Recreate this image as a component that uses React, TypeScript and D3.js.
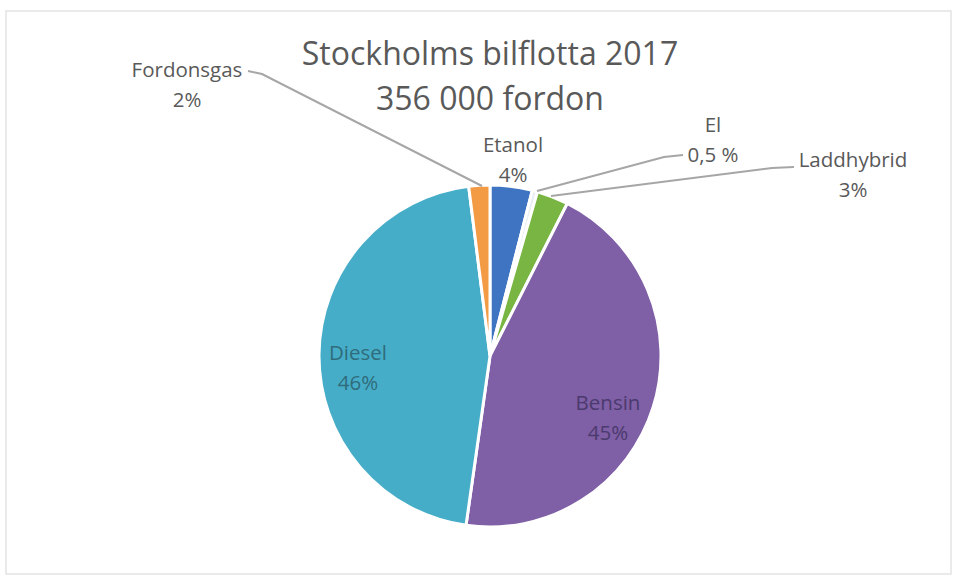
import React from 'react';
import * as d3 from 'd3';

const categories = ['Etanol', 'El', 'Laddhybrid', 'Bensin', 'Diesel', 'Fordonsgas'];
const values = [4, 0.5, 3, 45, 46, 2];
const valueLabels = ['4%', '0,5 %', '3%', '45%', '46%', '2%'];
const colors = ['#3e74c2', '#e8eef4', '#79b543', '#7f5fa5', '#46adc8', '#f39a45'];
const labelColors = ['#595959', '#595959', '#595959', '#4b3a6e', '#2f6c7c', '#595959'];
const titleLines = ['Stockholms bilflotta 2017', '356 000 fordon'];

const W = 955;
const H = 580;
const cx = 490;
const cy = 356;
const R = 171;

// label placement: x centre, baseline of first line, optional leader points
const labelPos: { x: number; y: number; leader?: [number, number][] }[] = [
  { x: 513, y: 152 },
  { x: 713, y: 132, leader: [[683, 155], [664, 157], [537, 191]] },
  { x: 853, y: 167, leader: [[794, 167], [772, 168], [551, 196]] },
  { x: 608, y: 410 },
  { x: 358, y: 360 },
  { x: 187, y: 77, leader: [[248, 71], [262, 74], [482, 186]] },
];

const App: React.FC = () => {
  const pie = d3.pie<number>().sort(null).value(d => d);
  const arcs = pie(values);
  const arc = d3.arc<d3.PieArcDatum<number>>().innerRadius(0).outerRadius(R);
  const line = d3.line();

  return (
    <svg width={W} height={H} style={{ position: 'absolute', left: 0, top: 0, background: '#fff' }}
      fontFamily="'Open Sans', sans-serif">
      <rect x={6} y={11} width={945} height={563} fill="#fff" stroke="#e3e3e3" strokeWidth={1.5} />
      {titleLines.map((t, i) => (
        <text key={t} x={cx} y={65 + i * 45} textAnchor="middle" fontSize={32} fill="#595959">{t}</text>
      ))}
      <g transform={`translate(${cx},${cy})`}>
        {arcs.map((a, i) => (
          <path key={categories[i]} d={arc(a) as string} fill={colors[i]} stroke="#fff" strokeWidth={3} />
        ))}
      </g>
      {labelPos.map((p, i) => (
        <g key={categories[i]}>
          {p.leader && (
            <path d={line(p.leader) as string} fill="none" stroke="#a6a6a6" strokeWidth={2} />
          )}
          <text x={p.x} y={p.y} textAnchor="middle" fontSize={20.5} fill={labelColors[i]}>{categories[i]}</text>
          <text x={p.x} y={p.y + 30} textAnchor="middle" fontSize={20.5} fill={labelColors[i]}>{valueLabels[i]}</text>
        </g>
      ))}
    </svg>
  );
};

export default App;
